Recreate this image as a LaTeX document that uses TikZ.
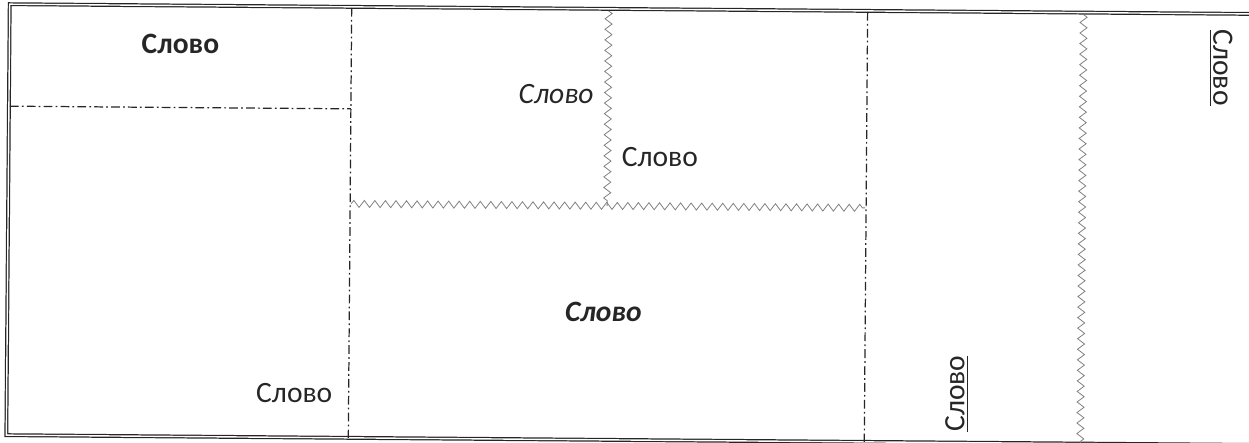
\documentclass[tikz,border=0pt]{standalone}
\usepackage{fontspec}
\setmainfont{Carlito}
\usetikzlibrary{decorations.pathmorphing}

\newcommand{\wordsize}{\fontsize{16.8}{20}\selectfont}

\tikzset{
    fold/.style={black!85, line width=0.7pt, dash pattern=on 5pt off 1.8pt on 1pt off 1.8pt},
    cut/.style={black!50, line width=0.45pt, decorate, decoration={zigzag, segment length=6pt, amplitude=2pt}},
    word/.style={text=black!85, inner sep=0pt, font=\wordsize},
    wordbf/.style={word, font=\wordsize\bfseries},
    wordit/.style={word, font=\wordsize\itshape},
    wordbi/.style={word, font=\wordsize\bfseries\itshape}
}

\begin{document}
\begin{tikzpicture}[x=0.02cm, y=-0.02cm]
    \useasboundingbox (0,0) rectangle (1249,443);
    \clip (0,0) rectangle (1249,443);
    \begin{scope}[rotate around={-0.45:(625,222)}]
    % Frame
    \draw[black!85, line width=0.7pt, double, double distance=0.8pt] (8,9) rectangle (1290,440);

    % Fold lines (dash-dot)
    \draw[fold] (350,10) -- (350,440);
    \draw[fold] (866,10) -- (866,440);
    \draw[fold] (9,111) -- (350,111);

    % Cut lines (zigzag)
    \draw[cut] (607,11) -- (607,206);
    \draw[cut] (351,206) -- (865,206);
    \draw[cut] (1082,11) -- (1082,440);

    % Words
    \node[wordbf] (topleft) at (179,47) {Слово};
    \node[word, anchor=east] (bottomleft) at (334,395) {Слово};
    \node[wordit, anchor=east] (midtop) at (593,94) {Слово};
    \node[word, anchor=west] (midright) at (621,157) {Слово};
    \node[wordbi] (midlow) at (604,312) {Слово};
    \node[word, rotate=90] (upword) at (958,391) {\underline{Слово}};
    \node[word, rotate=-90] (downword) at (1220,63) {\underline{Слово}};
    \end{scope}
\end{tikzpicture}
\end{document}
